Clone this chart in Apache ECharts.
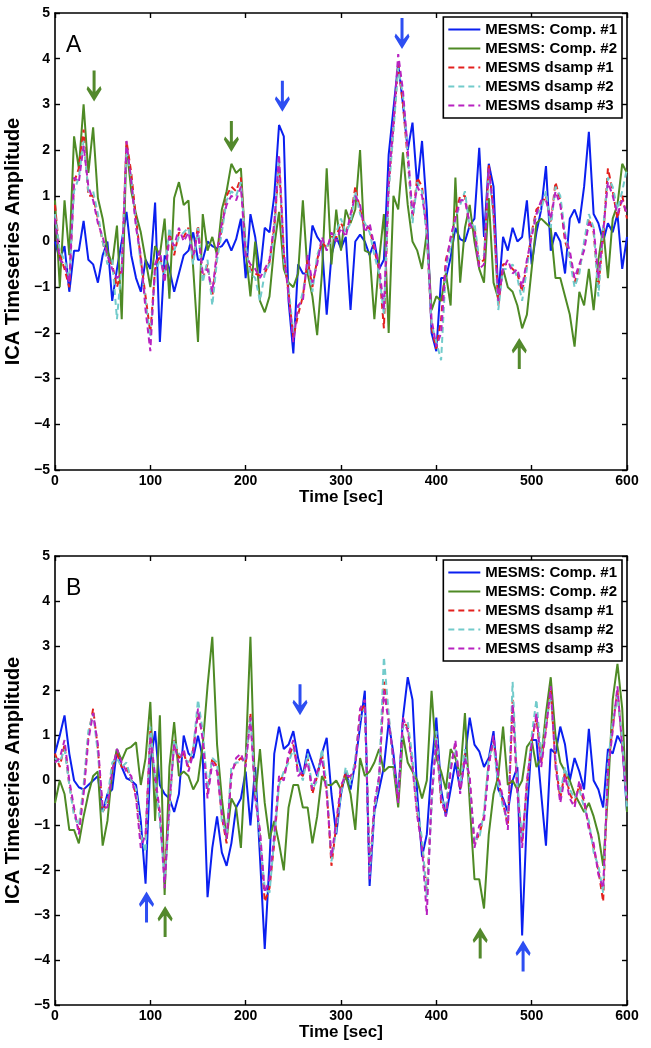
<!DOCTYPE html>
<html><head><meta charset="utf-8">
<script src="https://cdn.jsdelivr.net/npm/echarts@6/dist/echarts.min.js"></script>
<style>html,body{margin:0;padding:0;background:#fff}#c{width:651px;height:1048px}</style>
</head><body><div id="c"></div>
<script>
// ---------- data ----------
const seriesNames = ['MESMS: Comp. #1','MESMS: Comp. #2','MESMS dsamp #1','MESMS dsamp #2','MESMS dsamp #3'];
const xTicks = [0,100,200,300,400,500,600];
const yTicks = [-5,-4,-3,-2,-1,0,1,2,3,4,5];
// sample times (sec), every 5 s from 0 to 600
const times = Array.from({length:121}, (_, i) => i * 5);

// Panel A
const A_comp1 = [
 0.0,-0.4,-0.1,-1.1,-0.2,-0.2,0.45,-0.4,-0.5,-0.9,
 -0.3,0.0,-1.3,-0.6,0.0,0.65,-0.3,-0.8,-1.1,-0.4,
 -0.6,0.85,-2.2,-0.3,-0.6,-1.1,-0.7,-0.3,-0.2,0.2,
 -0.4,-0.4,0.0,-0.1,-0.15,-0.1,0.05,-0.2,0.05,0.5,
 -0.8,0.6,0.1,-0.7,0.3,0.2,1.0,2.55,2.3,-1.3,
 -2.45,-0.5,-0.7,-0.7,0.35,0.1,-0.05,-1.6,-0.3,0.1,
 -0.15,0.1,-1.5,0.0,0.15,0.0,-0.3,0.0,-0.6,-0.4,
 1.9,2.9,3.9,3.0,2.0,2.6,1.2,2.2,0.7,-2.0,
 -2.4,-0.8,-0.8,-0.35,0.3,0.05,0.0,0.35,0.5,2.05,
 0.1,1.7,1.2,-1.2,0.1,-0.2,0.3,0.0,0.1,0.9,
 -0.5,0.2,0.7,1.65,-0.2,0.2,0.0,-0.7,0.5,0.7,
 0.4,1.2,2.4,0.6,0.4,0.0,0.4,0.2,0.6,-0.6,
 0.1];
const A_comp2 = [
 0.9,-1.0,0.9,-0.3,2.3,1.6,3.0,1.5,2.5,0.95,
 0.5,-0.2,-0.5,0.35,-1.7,2.1,1.1,0.6,0.2,-0.4,
 -1.0,-0.1,-0.3,0.5,-1.25,0.95,1.3,0.8,0.9,-0.6,
 -2.2,0.6,-0.2,0.1,-0.3,0.7,1.1,1.7,1.5,1.6,
 -0.2,-1.2,0.0,-1.3,-1.55,-1.2,-0.1,0.65,-0.6,-0.9,
 -1.0,-0.7,0.9,-0.7,-1.2,-2.05,-0.7,1.6,-0.5,0.7,
 -0.2,0.7,0.4,0.7,2.0,-0.2,-0.25,-1.7,-0.4,0.6,
 -2.0,1.0,0.7,1.95,0.8,0.0,-0.2,-0.6,0.2,-1.5,
 -1.2,-1.3,-0.7,-1.4,1.4,-0.9,0.3,0.8,0.0,-0.6,
 -0.9,0.95,-0.9,-1.25,-0.6,-1.0,-1.1,-1.4,-1.9,-1.6,
 -0.6,0.4,0.5,0.4,0.3,-0.8,-0.8,-1.2,-1.6,-2.3,
 -1.1,-1.4,-0.6,-1.5,-0.4,0.3,-0.8,0.5,0.8,1.7,
 1.5];
const A_dsamp1 = [
 0.8,-0.3,-0.6,-1.0,1.3,1.6,2.45,1.0,1.0,0.5,
 0.0,-0.4,-0.5,-1.0,-0.6,2.2,1.5,0.5,-0.4,-1.2,
 -2.0,-0.6,-0.3,-0.8,0.2,-0.3,0.2,0.1,0.3,-0.4,
 0.35,-0.8,-0.5,-1.2,-0.3,0.3,1.0,1.2,1.1,1.4,
 -0.2,-0.6,-0.7,-0.75,-0.7,-0.45,0.3,1.7,-0.3,-1.1,
 -2.1,-1.6,-1.2,-0.4,-1.0,-0.4,0.0,-0.15,0.1,0.1,
 0.4,0.2,0.5,1.2,0.7,0.3,0.3,-0.2,-0.6,-1.9,
 1.2,2.5,3.9,3.0,1.8,0.5,1.4,1.2,0.2,-1.9,
 -2.35,-1.7,-0.4,0.0,0.6,1.0,1.0,0.3,0.3,-0.5,
 -0.4,1.7,0.6,-1.4,-0.5,-0.5,-0.6,-0.7,-1.1,-0.5,
 0.2,0.7,0.8,1.0,0.4,1.3,0.9,0.0,-0.3,-0.9,
 -0.6,-0.1,0.5,0.2,-1.0,0.1,1.6,1.1,0.5,1.0,
 0.5];
const A_dsamp2 = [
 0.6,-0.2,-0.4,-0.8,1.1,1.4,2.2,1.1,1.1,0.6,
 0.0,-0.5,-0.4,-1.7,-0.5,2.0,1.4,0.4,-0.5,-1.3,
 -2.1,-0.7,-0.4,-0.7,0.3,-0.2,0.1,0.2,0.3,-0.5,
 0.3,-0.9,-0.4,-1.4,-0.4,0.2,0.9,1.1,1.0,1.3,
 -0.1,-0.7,-0.8,-1.3,-0.7,-0.5,0.2,1.8,-0.4,-1.0,
 -2.0,-1.5,-1.1,-0.5,-1.1,-0.3,0.0,-0.1,0.0,0.2,
 0.5,0.2,0.4,1.1,0.6,0.4,0.2,-0.3,-0.7,-1.6,
 1.1,2.4,3.8,3.2,1.9,0.4,1.3,1.1,0.1,-1.8,
 -2.2,-2.6,-0.6,-0.1,0.5,0.8,1.1,0.3,0.4,-0.4,
 -0.3,1.5,0.5,-1.5,-0.6,-0.6,-0.5,-0.8,-1.3,-0.6,
 0.2,0.6,0.7,1.1,0.3,1.2,1.0,0.2,-0.4,-1.0,
 -0.7,0.0,0.6,0.3,-1.2,0.3,1.4,1.2,0.7,1.1,
 1.6];
const A_dsamp3 = [
 0.5,-0.4,-0.5,-0.9,1.4,1.3,2.1,1.2,0.9,0.4,
 0.1,-0.3,-0.6,-0.8,-0.7,2.2,1.3,0.3,-0.3,-1.5,
 -2.4,-0.5,-0.2,-0.9,0.1,-0.1,0.3,0.0,0.2,-0.3,
 0.2,-0.7,-0.6,-1.1,-0.2,0.4,0.8,1.0,0.9,1.2,
 -0.3,-0.5,-0.6,-0.8,-0.6,-0.4,0.4,1.9,-0.2,-1.2,
 -2.2,-1.4,-1.3,-0.3,-0.9,-0.5,0.1,-0.2,0.2,0.0,
 0.3,0.1,0.6,1.0,0.8,0.2,0.4,-0.1,-0.5,-1.5,
 1.3,2.6,4.1,3.3,2.0,0.6,1.2,1.0,0.3,-1.7,
 -2.3,-2.0,-0.5,0.1,0.5,0.9,0.9,0.4,0.2,-0.6,
 -0.5,1.6,0.7,-1.3,-0.6,-0.4,-0.7,-0.6,-1.0,-0.4,
 0.1,0.6,0.9,0.9,0.5,1.1,0.8,0.1,-0.2,-0.8,
 -0.5,-0.2,0.4,0.3,-0.8,0.2,1.3,1.0,0.6,0.9,
 0.6];

// Panel B
const B_comp1 = [
 0.6,1.0,1.45,0.6,0.0,-0.15,-0.2,-0.1,0.0,0.1,
 -0.7,-0.3,-0.2,0.7,0.3,0.05,0.0,-0.1,-0.9,-2.3,
 0.4,1.1,-0.1,-0.3,-0.4,-0.7,-0.3,1.0,0.6,0.5,
 1.0,0.5,-2.6,-1.5,-0.8,-1.6,-1.9,-1.4,-0.6,-0.4,
 0.2,-1.0,0.3,-1.7,-3.75,-1.8,0.6,1.2,0.7,0.8,
 1.1,0.5,0.1,0.7,0.4,0.1,0.6,0.95,-0.3,-1.2,
 -0.3,0.2,-0.2,0.4,1.2,2.0,-2.35,-0.7,-0.2,0.3,
 1.3,0.6,-0.4,1.4,2.3,1.8,-0.3,-1.7,-1.2,0.3,
 1.4,-0.2,-0.8,-0.2,0.4,-0.2,0.5,1.4,0.8,0.65,
 0.3,0.5,1.1,-0.2,-0.4,-0.7,0.0,0.3,-3.45,-0.8,
 0.9,0.9,-0.3,-1.45,0.7,0.6,1.2,0.8,0.0,0.5,
 0.2,-0.2,1.15,0.0,-0.2,-0.6,0.7,0.6,1.0,0.8,
 -0.7];
const B_comp2 = [
 -0.5,0.0,-0.3,-1.1,-1.1,-1.4,-0.8,-0.3,0.1,0.2,
 -1.45,-0.9,0.2,0.7,0.45,0.7,0.75,0.85,-0.1,0.5,
 1.75,-0.9,1.45,-2.55,0.3,1.3,0.1,0.2,0.1,-0.2,
 0.0,0.8,2.1,3.2,0.8,-0.4,-1.3,-0.4,-0.6,-1.5,
 0.5,3.2,-0.4,0.7,-0.5,-1.3,-0.9,-1.4,-2.0,-0.6,
 -0.1,-0.1,-0.6,-0.6,-1.4,-0.8,0.1,-0.1,-0.1,0.0,
 -0.2,0.1,-0.3,-1.1,0.5,0.1,0.2,0.4,0.7,0.2,
 0.3,0.3,-0.6,1.0,0.4,0.2,0.0,-0.4,0.0,2.0,
 0.5,0.2,-0.2,0.7,0.5,0.1,1.5,-0.5,-2.2,-2.2,
 -2.85,-1.2,-0.3,0.1,1.2,-0.1,0.0,-0.2,0.0,0.75,
 0.9,0.3,0.5,1.5,2.3,1.0,0.4,0.2,0.0,-0.3,
 -0.5,-0.7,-0.5,-0.8,-1.2,-1.9,-0.3,1.8,2.6,1.6,
 -0.7];
const B_dsamp1 = [
 0.6,0.3,0.8,-0.1,-0.7,-1.1,-0.2,1.0,1.6,0.7,
 -0.7,-0.5,0.3,0.6,0.3,0.3,0.0,-0.3,-1.3,-1.3,
 1.1,0.0,-0.8,-2.1,-0.6,0.9,0.5,0.6,0.3,0.7,
 1.5,1.0,-0.3,0.5,0.3,-0.8,-1.4,0.2,0.4,0.5,
 0.4,1.5,-0.3,-1.2,-2.7,-2.4,-1.4,0.0,0.1,0.5,
 0.8,0.2,0.1,0.5,-0.3,0.1,0.6,-0.2,-1.9,-1.0,
 -0.2,0.2,0.0,0.4,1.5,1.7,-2.0,-0.6,0.0,2.2,
 1.4,0.4,-0.4,1.3,1.2,0.4,-0.7,-1.4,-2.5,-0.5,
 1.0,-0.5,-0.7,0.3,0.8,-0.2,0.6,0.0,-1.4,-1.2,
 -0.8,0.4,0.9,0.0,-0.5,-1.0,1.8,-0.2,-1.4,-0.1,
 0.9,1.4,0.4,1.2,2.0,0.4,-0.4,0.2,-0.3,-0.5,
 -0.1,-0.5,-1.0,-1.5,-2.0,-2.7,0.3,1.2,2.0,0.8,
 -0.5];
const B_dsamp2 = [
 0.5,0.4,0.7,-0.1,-0.8,-1.0,-0.1,1.1,1.5,0.6,
 -0.7,-0.4,0.4,0.5,0.3,0.4,0.0,-0.2,-1.2,-1.6,
 1.2,0.0,-0.9,-2.2,-0.7,0.9,0.6,0.5,0.4,0.7,
 1.8,1.1,-0.2,0.5,0.4,-0.9,-1.2,0.3,0.4,0.4,
 0.5,1.4,-0.2,-1.3,-2.4,-2.5,-1.3,-0.1,0.2,0.4,
 0.7,0.3,0.0,0.6,-0.2,0.0,0.7,-0.1,-1.8,-1.1,
 -0.3,0.3,-0.1,0.5,1.4,1.6,-2.1,-0.7,0.1,2.75,
 1.5,0.3,-0.3,1.2,1.3,0.5,-0.6,-1.3,-2.6,-0.6,
 1.1,-0.4,-0.6,0.4,0.7,-0.1,0.7,-0.1,-1.3,-1.3,
 -0.7,0.5,0.8,-0.1,-0.6,-0.9,2.2,-0.1,-1.3,-0.2,
 1.0,1.8,0.5,1.3,1.9,0.5,-0.3,0.3,-0.2,-0.4,
 -0.2,-0.6,-0.9,-1.6,-1.9,-2.5,0.4,1.3,1.9,0.9,
 -0.6];
const B_dsamp3 = [
 0.4,0.5,0.9,0.0,-0.6,-1.2,-0.3,0.9,1.5,0.8,
 -0.6,-0.6,0.2,0.7,0.4,0.2,0.1,-0.4,-1.5,-1.2,
 1.0,0.1,-0.7,-2.4,-0.5,0.8,0.4,0.7,0.2,0.6,
 1.6,0.9,-0.4,0.4,0.2,-0.7,-1.3,0.1,0.5,0.6,
 0.3,1.4,-0.4,-1.1,-2.5,-2.2,-1.2,0.1,0.0,0.6,
 0.9,0.1,0.2,0.4,-0.2,0.2,0.5,-0.3,-1.7,-0.9,
 -0.1,0.1,0.1,0.3,1.6,1.8,-2.2,-0.5,0.1,2.0,
 1.3,0.5,-0.5,1.4,1.1,0.3,-0.8,-1.5,-3.0,-0.4,
 0.9,-0.4,-0.8,0.2,0.9,-0.3,0.5,0.1,-1.5,-1.0,
 -0.9,0.3,1.0,0.1,-0.4,-1.1,1.7,-0.3,-1.5,0.0,
 0.8,1.5,0.3,1.1,2.1,0.3,-0.5,0.1,-0.4,-0.6,
 0.0,-0.4,-1.1,-1.4,-2.1,-2.4,0.2,1.1,2.1,0.7,
 -0.4];

// annotation arrows: [time, value(centre), direction, colour key]
const arrowsA = [[41,3.4,'down','green'],[185,2.3,'down','green'],[238.5,3.18,'down','blue'],[364,4.55,'down','blue'],[487,-2.45,'up','green']];
const arrowsB = [[257,1.8,'down','blue'],[96,-2.82,'up','blue'],[115.5,-3.14,'up','green'],[446,-3.62,'up','green'],[491,-3.91,'up','blue']];
const panelLabels = ['A','B'];

// ---------- style ----------
const colors = ['#0a1ff0','#4e8a25','#e3211e','#72cbcb','#b822c0'];
const dashed = [false,false,true,true,true];
const arrowColors = {blue:'#2d4ef2', green:'#53892c'};
const FONT = 'Liberation Sans, Arial, Helvetica, sans-serif';
const ARROW = 'path://M4,0 L6,0 L6,15 L9.2,11 L10,13.2 L5,22 L0,13.2 L0.8,11 L4,15 Z';
const ICON_SOLID = 'path://M0,0 H32 V2 H0 Z';
const ICON_DASH = 'path://M0,0 H6 V2 H0 Z M10,0 H16 V2 H10 Z M20,0 H26 V2 H20 Z M30,0 H32 V2 H30 Z';
const minus = v => String(v).replace('-', '\u2212');

const grids = [
  {left:55, right:24, top:13, height:457, containLabel:false, outerBoundsMode:'none'},
  {left:55, right:24, top:556, height:449, containLabel:false, outerBoundsMode:'none'}
];

const xAxis = [], yAxis = [];
grids.forEach((g, gi) => {
  const common = {gridIndex:gi, type:'value', min:0, max:600, interval:100,
    axisLine:{onZero:false, lineStyle:{color:'#000', width:1.6}},
    axisTick:{inside:true, length:5, lineStyle:{color:'#000', width:1.4}},
    splitLine:{show:false}};
  xAxis.push(Object.assign({}, common, {position:'bottom',
    axisLabel:{color:'#000', fontWeight:'bold', fontSize:14, fontFamily:FONT, margin:4, formatter:minus},
    name:'Time [sec]', nameLocation:'middle', nameGap:16,
    nameTextStyle:{color:'#000', fontWeight:'bold', fontSize:17, fontFamily:FONT}}));
  xAxis.push(Object.assign({}, common, {position:'top', axisLabel:{show:false}}));
  const ycommon = {gridIndex:gi, type:'value', min:-5, max:5, interval:1,
    axisLine:{onZero:false, lineStyle:{color:'#000', width:1.6}},
    axisTick:{inside:true, length:5, lineStyle:{color:'#000', width:1.4}},
    splitLine:{show:false}};
  yAxis.push(Object.assign({}, ycommon, {position:'left',
    axisLabel:{color:'#000', fontWeight:'bold', fontSize:14, fontFamily:FONT, margin:5, formatter:minus},
    name:'ICA Timeseries Amplitude', nameLocation:'middle', nameGap:20, nameRotate:90,
    nameTextStyle:{color:'#000', fontWeight:'bold', fontSize:20, fontFamily:FONT}}));
  yAxis.push(Object.assign({}, ycommon, {position:'right', axisLabel:{show:false}}));
});

const panelData = [
  [A_comp1, A_comp2, A_dsamp1, A_dsamp2, A_dsamp3],
  [B_comp1, B_comp2, B_dsamp1, B_dsamp2, B_dsamp3]
];
const panelArrows = [arrowsA, arrowsB];

const series = [];
panelData.forEach((arrs, gi) => {
  arrs.forEach((arr, si) => {
    const s = {
      name: seriesNames[si], type:'line', xAxisIndex: gi*2, yAxisIndex: gi*2,
      data: times.map((t, i) => [t, arr[i]]),
      symbol:'none', showSymbol:false, smooth:false, z: 2 + si,
      lineStyle:{color:colors[si], width:2, type: dashed[si] ? [6,4] : 'solid'},
      itemStyle:{color:colors[si]}
    };
    if (si === 0) {
      s.markPoint = {
        silent:true, animation:false, label:{show:false},
        data: panelArrows[gi].map(a => ({
          coord:[a[0], a[1]], symbol:ARROW, symbolSize:[15,31],
          symbolRotate: a[2] === 'up' ? 180 : 0,
          itemStyle:{color: arrowColors[a[3]]}
        }))
      };
    }
    series.push(s);
  });
});

const legend = grids.map((g, gi) => ({
  data: seriesNames.map((n, si) => ({name:n, icon: dashed[si] ? ICON_DASH : ICON_SOLID,
    itemStyle:{color:colors[si], borderWidth:0}})),
  orient:'vertical', right:29, top: g.top + 4,
  itemWidth:32, itemHeight:2.2, itemGap:4, padding:[5,5,5,5],
  backgroundColor:'#fff', borderColor:'#000', borderWidth:1.6, borderRadius:0,
  textStyle:{color:'#000', fontWeight:'bold', fontSize:15, fontFamily:FONT, lineHeight:15},
  selectedMode:false
}));

const title = grids.map((g, gi) => ({
  text: panelLabels[gi], left: 61, top: g.top + 16,
  textStyle:{color:'#000', fontWeight:'normal', fontSize:23, fontFamily:FONT}
}));

const chart = echarts.init(document.getElementById('c'), null, {renderer:'canvas'});
chart.setOption({
  animation:false, backgroundColor:'#fff',
  title, legend, grid: grids, xAxis, yAxis, series
});
</script></body></html>
